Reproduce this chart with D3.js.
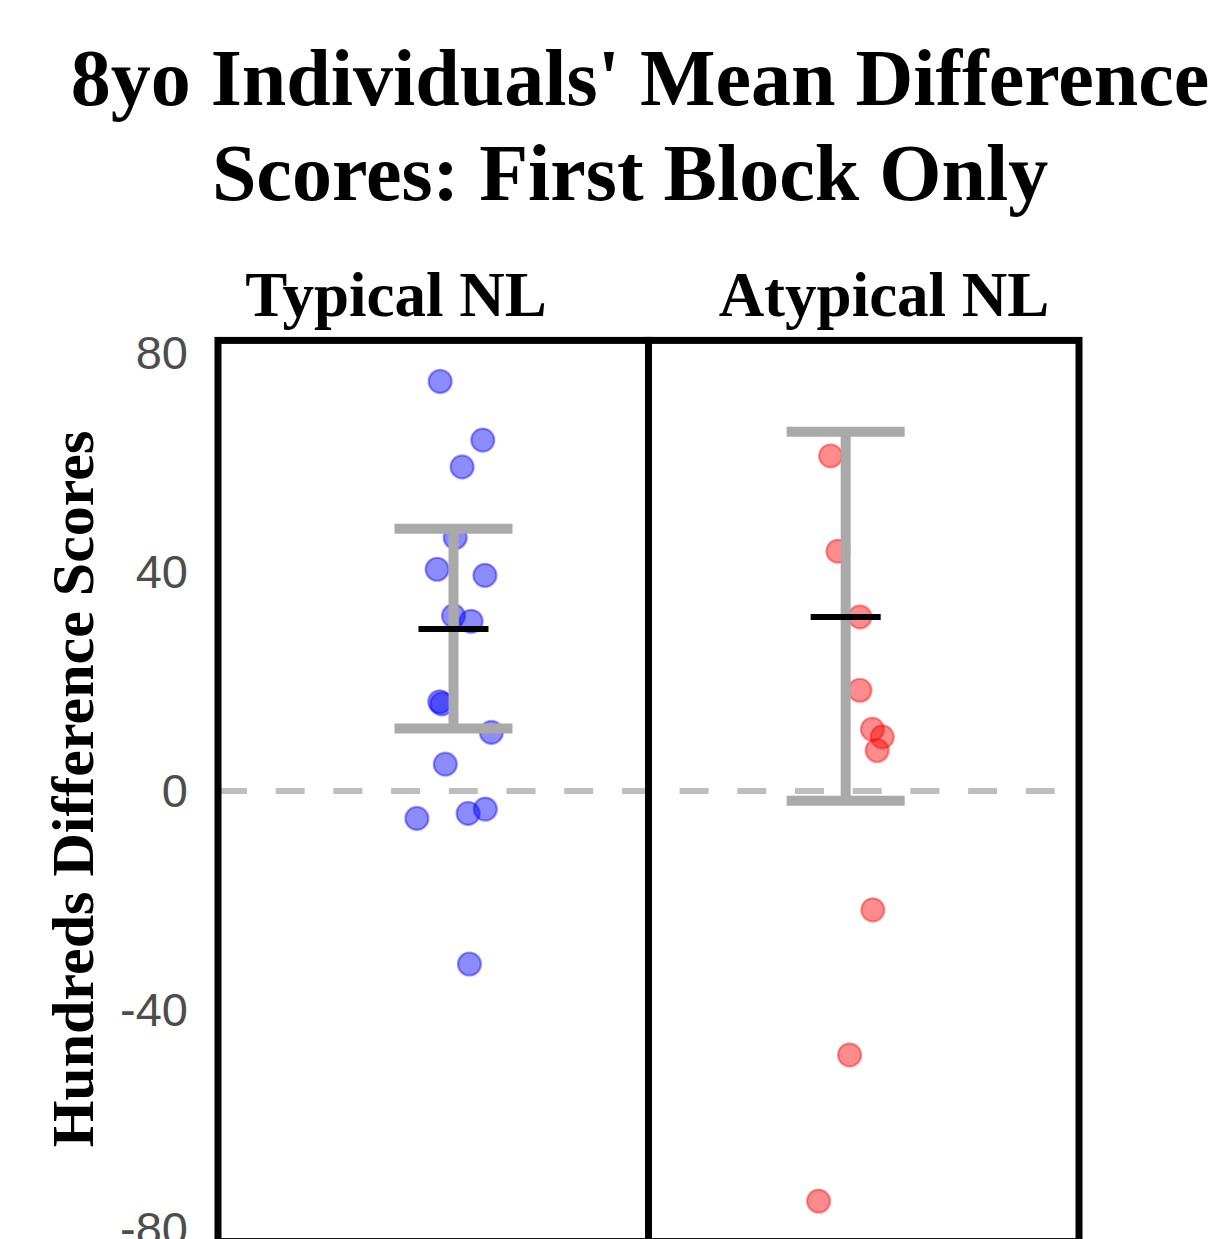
<!DOCTYPE html>
<html lang="en">
<head>
  <meta charset="UTF-8">
  <title>8yo Individuals' Mean Difference Scores: First Block Only</title>
  <script src="https://d3js.org/d3.v7.min.js"></script>
  <style>
    body {
      margin: 0;
      background: #fff;
    }
    svg text.serif {
      font-family: "Liberation Serif", "Times New Roman", serif;
      font-weight: bold;
      fill: #000;
    }
    .tick text {
      font-family: "Liberation Sans", Arial, sans-serif;
      fill: #4d4d4d;
    }
  </style>
</head>
<body>
<div id="chart"></div>

<script>
// Panels
const groups = ["Typical NL", "Atypical NL"];

// Individual scores
const typicalScores = [74.8, 64.1, 59.2, 46.3, 40.5, 39.4, 32.0, 31.0, 16.3, 15.9, 10.7, 4.9, -5.0, -4.1, -3.3, -31.6];
const typicalJitter = [0.516, 0.615, 0.567, 0.551, 0.509, 0.620, 0.547, 0.588, 0.515, 0.520, 0.635, 0.528, 0.462, 0.581, 0.621, 0.584];
const atypicalScores = [61.2, 43.8, 31.8, 18.4, 11.3, 9.9, 7.4, -21.7, -48.2, -74.9];
const atypicalJitter = [0.423, 0.440, 0.491, 0.491, 0.520, 0.543, 0.531, 0.521, 0.467, 0.395];

// Group summaries (mean and error bar ends)
const groupMeans = [29.6, 31.8];
const groupUpper = [47.9, 65.6];
const groupLower = [11.4, -1.8];
const groupX = [0.547, 0.458];

const yTicks = [80, 40, 0, -40, -80];
const pointColors = ["blue", "red"];

const width = 1228, height = 1239;
const left = 218, panelW = 430.5;

const svg = d3.select("#chart").append("svg")
  .attr("width", width)
  .attr("height", height);

const y = d3.scaleLinear().domain([-80, 80]).range([1229, 353]);
const panelTop = y(82.3), panelBottom = y(-82.3);

// Title
const title = svg.append("text")
  .attr("class", "serif")
  .attr("text-anchor", "middle")
  .style("font-size", "80px");
title.append("tspan").attr("x", 640).attr("y", 105).text("8yo Individuals' Mean Difference");
title.append("tspan").attr("x", 630).attr("y", 200).text("Scores: First Block Only");

// y axis label
svg.append("text")
  .attr("class", "serif")
  .attr("text-anchor", "middle")
  .attr("transform", `translate(93, ${y(0) - 2}) rotate(-90)`)
  .style("font-size", "60px")
  .text("Hundreds Difference Scores");

// y axis (labels only, plain hyphen minus)
svg.append("g")
  .attr("transform", `translate(${left},0)`)
  .call(d3.axisLeft(y).tickValues(yTicks).tickSize(0).tickPadding(30).tickFormat(d => String(d)))
  .call(g => g.select(".domain").remove())
  .selectAll("text")
  .style("font-size", "47px");

const panelData = [
  { scores: typicalScores, jitter: typicalJitter },
  { scores: atypicalScores, jitter: atypicalJitter }
];
const stripX = [396, 884];

groups.forEach((name, i) => {
  const x0 = left + i * panelW;
  const x = d3.scaleLinear().domain([0, 1]).range([x0, x0 + panelW]);
  const g = svg.append("g");

  // strip label
  svg.append("text")
    .attr("class", "serif")
    .attr("text-anchor", "middle")
    .attr("x", stripX[i])
    .attr("y", 316)
    .style("font-size", "63px")
    .text(name);

  // points
  const pts = panelData[i].scores.map((v, j) => ({ v, j: panelData[i].jitter[j] }));
  g.selectAll("circle")
    .data(pts)
    .enter().append("circle")
    .attr("cx", d => x(d.j))
    .attr("cy", d => y(d.v))
    .attr("r", 11.5)
    .attr("fill", pointColors[i])
    .attr("fill-opacity", 0.45)
    .attr("stroke", pointColors[i])
    .attr("stroke-opacity", 0.4)
    .attr("stroke-width", 2.2);

  // error bar
  const cx = x(groupX[i]);
  const capHalf = 59;
  g.append("line")
    .attr("x1", cx).attr("x2", cx)
    .attr("y1", y(groupUpper[i])).attr("y2", y(groupLower[i]))
    .attr("stroke", "#a9a9a9").attr("stroke-width", 10);
  [groupUpper[i], groupLower[i]].forEach(v => {
    g.append("line")
      .attr("x1", cx - capHalf).attr("x2", cx + capHalf)
      .attr("y1", y(v)).attr("y2", y(v))
      .attr("stroke", "#a9a9a9").attr("stroke-width", 10);
  });

  // mean
  g.append("line")
    .attr("x1", cx - 35).attr("x2", cx + 35)
    .attr("y1", y(groupMeans[i])).attr("y2", y(groupMeans[i]))
    .attr("stroke", "#000").attr("stroke-width", 6);
});

// zero reference line, drawn under the marks
svg.insert("line", "g")
  .attr("x1", left).attr("x2", left + 2 * panelW)
  .attr("y1", y(0)).attr("y2", y(0))
  .attr("stroke", "#bebebe")
  .attr("stroke-width", 6)
  .attr("stroke-dasharray", "29 28.7");

// panel frames
groups.forEach((name, i) => {
  svg.append("rect")
    .attr("x", left + i * panelW)
    .attr("y", panelTop)
    .attr("width", panelW)
    .attr("height", panelBottom - panelTop)
    .attr("fill", "none")
    .attr("stroke", "#000")
    .attr("stroke-width", 7);
});
</script>
</body>
</html>
